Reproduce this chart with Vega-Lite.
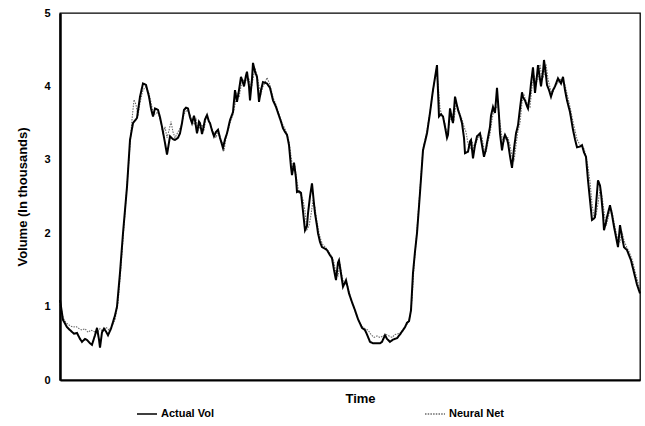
{
 "$schema": "https://vega.github.io/schema/vega-lite/v6.json",
 "width": 580,
 "height": 367,
 "autosize": "none",
 "padding": {"left": 60, "top": 13, "right": 5, "bottom": 46},
 "background": "white",
 "config": {"view": {"stroke": "#000", "strokeWidth": 1.3}, "font": "Liberation Sans"},
 "datasets": {
  "actual": [
   {"t":60,"v":1.09},{"t":63,"v":0.82},{"t":67,"v":0.72},{"t":70,"v":0.68},{"t":74,"v":0.63},{"t":77,"v":0.64},{"t":80,"v":0.56},{"t":82,"v":0.52},{"t":85,"v":0.56},{"t":87,"v":0.545},{"t":90,"v":0.5},{"t":92,"v":0.48},{"t":95,"v":0.61},{"t":97,"v":0.71},{"t":99,"v":0.55},{"t":100,"v":0.44},{"t":102,"v":0.65},{"t":104,"v":0.7},{"t":106,"v":0.66},{"t":108,"v":0.61},{"t":111,"v":0.7},{"t":113,"v":0.79},{"t":115,"v":0.88},{"t":117,"v":1.0},{"t":120,"v":1.46},{"t":123,"v":2.0},{"t":127,"v":2.63},{"t":130,"v":3.27},{"t":133,"v":3.5},{"t":137,"v":3.57},{"t":140,"v":3.86},{"t":143,"v":4.04},{"t":146,"v":4.02},{"t":149,"v":3.86},{"t":151,"v":3.7},{"t":153,"v":3.59},{"t":155,"v":3.7},{"t":158,"v":3.68},{"t":160,"v":3.58},{"t":162,"v":3.45},{"t":165,"v":3.23},{"t":167,"v":3.07},{"t":170,"v":3.32},{"t":173,"v":3.28},{"t":175,"v":3.27},{"t":178,"v":3.3},{"t":180,"v":3.36},{"t":182,"v":3.5},{"t":184,"v":3.68},{"t":186,"v":3.71},{"t":188,"v":3.7},{"t":190,"v":3.58},{"t":192,"v":3.5},{"t":194,"v":3.6},{"t":195,"v":3.54},{"t":197,"v":3.36},{"t":199,"v":3.52},{"t":200,"v":3.5},{"t":202,"v":3.35},{"t":203,"v":3.41},{"t":205,"v":3.55},{"t":207,"v":3.61},{"t":209,"v":3.52},{"t":210,"v":3.5},{"t":212,"v":3.4},{"t":214,"v":3.32},{"t":216,"v":3.38},{"t":218,"v":3.41},{"t":220,"v":3.3},{"t":223,"v":3.16},{"t":225,"v":3.28},{"t":227,"v":3.36},{"t":230,"v":3.54},{"t":233,"v":3.65},{"t":235,"v":3.95},{"t":237,"v":3.79},{"t":239,"v":3.95},{"t":241,"v":4.13},{"t":243,"v":4.05},{"t":244,"v":4.0},{"t":246,"v":4.15},{"t":247,"v":4.2},{"t":249,"v":4.0},{"t":250,"v":3.81},{"t":252,"v":4.1},{"t":253,"v":4.32},{"t":255,"v":4.2},{"t":257,"v":4.13},{"t":259,"v":3.79},{"t":261,"v":3.95},{"t":263,"v":4.06},{"t":265,"v":4.05},{"t":267,"v":4.04},{"t":270,"v":3.98},{"t":273,"v":3.81},{"t":276,"v":3.72},{"t":278,"v":3.64},{"t":281,"v":3.52},{"t":283,"v":3.43},{"t":285,"v":3.38},{"t":287,"v":3.34},{"t":289,"v":3.2},{"t":291,"v":2.9},{"t":292,"v":2.79},{"t":294,"v":2.96},{"t":296,"v":2.75},{"t":297,"v":2.56},{"t":299,"v":2.57},{"t":301,"v":2.55},{"t":303,"v":2.3},{"t":305,"v":2.04},{"t":307,"v":2.1},{"t":308,"v":2.27},{"t":310,"v":2.5},{"t":312,"v":2.68},{"t":314,"v":2.4},{"t":315,"v":2.27},{"t":317,"v":2.1},{"t":318,"v":2.0},{"t":320,"v":1.88},{"t":322,"v":1.81},{"t":325,"v":1.79},{"t":327,"v":1.77},{"t":330,"v":1.7},{"t":332,"v":1.66},{"t":334,"v":1.5},{"t":336,"v":1.36},{"t":338,"v":1.6},{"t":339,"v":1.63},{"t":341,"v":1.45},{"t":343,"v":1.27},{"t":346,"v":1.36},{"t":349,"v":1.18},{"t":352,"v":1.06},{"t":355,"v":0.95},{"t":358,"v":0.83},{"t":362,"v":0.71},{"t":365,"v":0.68},{"t":367,"v":0.62},{"t":370,"v":0.52},{"t":373,"v":0.5},{"t":377,"v":0.5},{"t":380,"v":0.5},{"t":382,"v":0.52},{"t":384,"v":0.58},{"t":385,"v":0.61},{"t":387,"v":0.56},{"t":390,"v":0.52},{"t":393,"v":0.55},{"t":397,"v":0.57},{"t":400,"v":0.62},{"t":402,"v":0.66},{"t":405,"v":0.72},{"t":407,"v":0.78},{"t":409,"v":0.8},{"t":411,"v":0.95},{"t":413,"v":1.46},{"t":415,"v":1.75},{"t":417,"v":2.0},{"t":420,"v":2.55},{"t":423,"v":3.13},{"t":427,"v":3.36},{"t":430,"v":3.64},{"t":433,"v":3.95},{"t":437,"v":4.29},{"t":439,"v":3.59},{"t":441,"v":3.62},{"t":443,"v":3.59},{"t":445,"v":3.45},{"t":447,"v":3.3},{"t":448,"v":3.34},{"t":450,"v":3.7},{"t":452,"v":3.55},{"t":453,"v":3.5},{"t":455,"v":3.86},{"t":457,"v":3.74},{"t":458,"v":3.68},{"t":460,"v":3.6},{"t":462,"v":3.5},{"t":464,"v":3.3},{"t":465,"v":3.09},{"t":468,"v":3.11},{"t":470,"v":3.25},{"t":471,"v":3.27},{"t":473,"v":3.02},{"t":475,"v":3.2},{"t":477,"v":3.32},{"t":480,"v":3.36},{"t":482,"v":3.2},{"t":484,"v":3.04},{"t":486,"v":3.15},{"t":487,"v":3.23},{"t":490,"v":3.45},{"t":491,"v":3.6},{"t":493,"v":3.72},{"t":495,"v":3.64},{"t":497,"v":3.98},{"t":499,"v":3.6},{"t":500,"v":3.36},{"t":502,"v":3.13},{"t":504,"v":3.3},{"t":505,"v":3.34},{"t":507,"v":3.28},{"t":508,"v":3.23},{"t":510,"v":3.05},{"t":512,"v":2.89},{"t":514,"v":3.15},{"t":516,"v":3.36},{"t":518,"v":3.47},{"t":520,"v":3.7},{"t":522,"v":3.92},{"t":523,"v":3.85},{"t":525,"v":3.81},{"t":527,"v":3.73},{"t":528,"v":3.7},{"t":530,"v":3.9},{"t":531,"v":4.04},{"t":533,"v":4.26},{"t":535,"v":3.91},{"t":537,"v":4.15},{"t":538,"v":4.29},{"t":540,"v":4.1},{"t":541,"v":4.0},{"t":543,"v":4.2},{"t":544,"v":4.36},{"t":546,"v":4.15},{"t":547,"v":4.02},{"t":549,"v":3.95},{"t":551,"v":3.86},{"t":553,"v":3.95},{"t":555,"v":4.0},{"t":558,"v":4.11},{"t":561,"v":4.04},{"t":563,"v":4.13},{"t":565,"v":3.95},{"t":567,"v":3.81},{"t":570,"v":3.65},{"t":573,"v":3.41},{"t":575,"v":3.28},{"t":577,"v":3.17},{"t":580,"v":3.18},{"t":582,"v":3.2},{"t":584,"v":3.1},{"t":586,"v":3.04},{"t":588,"v":2.72},{"t":590,"v":2.45},{"t":592,"v":2.18},{"t":594,"v":2.2},{"t":595,"v":2.22},{"t":597,"v":2.55},{"t":598,"v":2.72},{"t":600,"v":2.65},{"t":601,"v":2.55},{"t":603,"v":2.25},{"t":604,"v":2.04},{"t":606,"v":2.15},{"t":607,"v":2.22},{"t":610,"v":2.38},{"t":612,"v":2.25},{"t":614,"v":2.09},{"t":616,"v":1.95},{"t":618,"v":1.81},{"t":620,"v":2.11},{"t":622,"v":1.95},{"t":624,"v":1.81},{"t":627,"v":1.77},{"t":629,"v":1.7},{"t":631,"v":1.63},{"t":633,"v":1.52},{"t":635,"v":1.41},{"t":637,"v":1.3},{"t":640,"v":1.18}
  ],
  "neural": [
   {"t":60,"v":1.05},{"t":63,"v":0.85},{"t":66,"v":0.78},{"t":70,"v":0.74},{"t":73,"v":0.72},{"t":76,"v":0.73},{"t":79,"v":0.7},{"t":82,"v":0.68},{"t":85,"v":0.7},{"t":88,"v":0.65},{"t":91,"v":0.68},{"t":94,"v":0.66},{"t":97,"v":0.64},{"t":100,"v":0.7},{"t":103,"v":0.66},{"t":106,"v":0.72},{"t":109,"v":0.68},{"t":112,"v":0.74},{"t":115,"v":0.82},{"t":118,"v":1.05},{"t":121,"v":1.55},{"t":124,"v":2.1},{"t":127,"v":2.65},{"t":130,"v":3.2},{"t":132,"v":3.55},{"t":134,"v":3.82},{"t":136,"v":3.75},{"t":138,"v":3.6},{"t":140,"v":3.78},{"t":143,"v":3.95},{"t":146,"v":4.0},{"t":149,"v":3.9},{"t":151,"v":3.78},{"t":153,"v":3.65},{"t":155,"v":3.62},{"t":158,"v":3.65},{"t":161,"v":3.5},{"t":163,"v":3.35},{"t":165,"v":3.45},{"t":167,"v":3.3},{"t":169,"v":3.4},{"t":171,"v":3.52},{"t":173,"v":3.38},{"t":175,"v":3.3},{"t":178,"v":3.38},{"t":181,"v":3.45},{"t":184,"v":3.62},{"t":187,"v":3.68},{"t":190,"v":3.62},{"t":192,"v":3.52},{"t":194,"v":3.48},{"t":196,"v":3.55},{"t":198,"v":3.4},{"t":200,"v":3.45},{"t":202,"v":3.48},{"t":204,"v":3.4},{"t":206,"v":3.58},{"t":208,"v":3.55},{"t":210,"v":3.5},{"t":212,"v":3.42},{"t":214,"v":3.36},{"t":216,"v":3.3},{"t":218,"v":3.4},{"t":220,"v":3.28},{"t":222,"v":3.25},{"t":224,"v":3.12},{"t":226,"v":3.3},{"t":228,"v":3.4},{"t":230,"v":3.5},{"t":233,"v":3.62},{"t":235,"v":3.75},{"t":237,"v":3.9},{"t":239,"v":3.85},{"t":241,"v":4.0},{"t":243,"v":4.1},{"t":245,"v":4.05},{"t":247,"v":4.12},{"t":249,"v":4.1},{"t":251,"v":3.95},{"t":253,"v":4.1},{"t":255,"v":4.25},{"t":257,"v":4.15},{"t":259,"v":4.0},{"t":261,"v":3.9},{"t":263,"v":4.0},{"t":265,"v":4.05},{"t":267,"v":4.12},{"t":270,"v":4.02},{"t":273,"v":3.85},{"t":276,"v":3.75},{"t":279,"v":3.62},{"t":282,"v":3.5},{"t":285,"v":3.42},{"t":287,"v":3.35},{"t":289,"v":3.25},{"t":291,"v":3.05},{"t":293,"v":2.85},{"t":295,"v":2.9},{"t":297,"v":2.7},{"t":299,"v":2.55},{"t":301,"v":2.52},{"t":303,"v":2.45},{"t":305,"v":2.3},{"t":307,"v":2.05},{"t":309,"v":2.1},{"t":311,"v":2.25},{"t":313,"v":2.45},{"t":315,"v":2.35},{"t":317,"v":2.15},{"t":319,"v":2.0},{"t":321,"v":1.9},{"t":323,"v":1.84},{"t":326,"v":1.8},{"t":329,"v":1.74},{"t":332,"v":1.68},{"t":334,"v":1.6},{"t":336,"v":1.45},{"t":338,"v":1.42},{"t":340,"v":1.58},{"t":342,"v":1.42},{"t":344,"v":1.3},{"t":347,"v":1.32},{"t":350,"v":1.15},{"t":353,"v":1.02},{"t":356,"v":0.9},{"t":359,"v":0.8},{"t":362,"v":0.73},{"t":365,"v":0.7},{"t":368,"v":0.68},{"t":371,"v":0.62},{"t":374,"v":0.58},{"t":377,"v":0.6},{"t":380,"v":0.58},{"t":383,"v":0.6},{"t":386,"v":0.62},{"t":389,"v":0.6},{"t":392,"v":0.58},{"t":395,"v":0.62},{"t":398,"v":0.63},{"t":401,"v":0.65},{"t":404,"v":0.7},{"t":407,"v":0.76},{"t":410,"v":0.85},{"t":412,"v":1.1},{"t":414,"v":1.55},{"t":417,"v":2.05},{"t":420,"v":2.6},{"t":423,"v":3.15},{"t":427,"v":3.4},{"t":430,"v":3.65},{"t":433,"v":3.95},{"t":436,"v":4.2},{"t":438,"v":4.05},{"t":440,"v":3.7},{"t":442,"v":3.6},{"t":444,"v":3.55},{"t":446,"v":3.42},{"t":448,"v":3.38},{"t":450,"v":3.55},{"t":452,"v":3.62},{"t":454,"v":3.55},{"t":456,"v":3.75},{"t":458,"v":3.7},{"t":460,"v":3.62},{"t":462,"v":3.55},{"t":464,"v":3.45},{"t":466,"v":3.38},{"t":468,"v":3.22},{"t":470,"v":3.15},{"t":472,"v":3.25},{"t":474,"v":3.15},{"t":476,"v":3.22},{"t":478,"v":3.3},{"t":480,"v":3.35},{"t":482,"v":3.3},{"t":484,"v":3.15},{"t":486,"v":3.1},{"t":488,"v":3.25},{"t":490,"v":3.35},{"t":492,"v":3.55},{"t":494,"v":3.68},{"t":496,"v":3.7},{"t":498,"v":3.75},{"t":500,"v":3.5},{"t":502,"v":3.3},{"t":504,"v":3.25},{"t":506,"v":3.3},{"t":508,"v":3.3},{"t":510,"v":3.2},{"t":512,"v":3.05},{"t":514,"v":2.98},{"t":516,"v":3.2},{"t":518,"v":3.4},{"t":520,"v":3.5},{"t":522,"v":3.78},{"t":524,"v":3.88},{"t":526,"v":3.8},{"t":528,"v":3.75},{"t":530,"v":3.72},{"t":532,"v":4.0},{"t":534,"v":4.15},{"t":536,"v":4.05},{"t":538,"v":4.1},{"t":540,"v":4.3},{"t":542,"v":4.1},{"t":544,"v":4.15},{"t":546,"v":4.3},{"t":548,"v":4.1},{"t":550,"v":3.98},{"t":552,"v":3.9},{"t":554,"v":3.95},{"t":556,"v":4.02},{"t":558,"v":4.05},{"t":561,"v":4.1},{"t":563,"v":4.05},{"t":565,"v":4.02},{"t":567,"v":3.9},{"t":570,"v":3.72},{"t":573,"v":3.52},{"t":575,"v":3.4},{"t":577,"v":3.28},{"t":580,"v":3.2},{"t":582,"v":3.18},{"t":584,"v":3.15},{"t":586,"v":3.05},{"t":588,"v":2.9},{"t":590,"v":2.7},{"t":592,"v":2.4},{"t":594,"v":2.22},{"t":596,"v":2.25},{"t":598,"v":2.4},{"t":600,"v":2.6},{"t":602,"v":2.5},{"t":604,"v":2.3},{"t":606,"v":2.1},{"t":608,"v":2.2},{"t":610,"v":2.32},{"t":612,"v":2.3},{"t":614,"v":2.15},{"t":616,"v":2.02},{"t":618,"v":1.9},{"t":620,"v":1.88},{"t":622,"v":2.02},{"t":624,"v":1.9},{"t":627,"v":1.8},{"t":629,"v":1.75},{"t":631,"v":1.68},{"t":633,"v":1.6},{"t":635,"v":1.48},{"t":637,"v":1.38},{"t":640,"v":1.22}
  ]
 },
 "encoding": {
  "x": {"field": "t", "type": "quantitative", "scale": {"domain": [60, 640], "nice": false, "zero": false},
        "axis": {"title": "Time", "labels": false, "ticks": false, "grid": false, "domainWidth": 2, "domainColor": "#000",
                 "titleFont": "Liberation Sans", "titleFontSize": 13, "titleFontWeight": "bold", "titleColor": "#000", "titlePadding": 12, "titleX": 300}},
  "y": {"field": "v", "type": "quantitative", "scale": {"domain": [0, 5], "nice": false},
        "axis": {"title": "Volume (In thousands)", "values": [0,1,2,3,4,5], "ticks": false, "grid": false, "domainWidth": 2.5, "domainColor": "#000",
                 "labelFont": "Liberation Sans", "labelFontSize": 11, "labelFontWeight": "bold", "labelColor": "#000", "labelPadding": 10,
                 "titleFont": "Liberation Sans", "titleFontSize": 13, "titleFontWeight": "bold", "titleColor": "#000", "titlePadding": 14}}
 },
 "layer": [
  {"data": {"name": "neural"},
   "mark": {"type": "line", "strokeWidth": 1.1},
   "encoding": {
    "color": {"datum": "Neural Net", "type": "nominal", "scale": {"domain": ["Actual Vol", "Neural Net"], "range": ["#000000", "#6a6a6a"]},
              "legend": {"orient": "none", "legendX": 76, "legendY": 390, "direction": "horizontal", "title": null, "symbolType": "stroke", "symbolSize": 400, "symbolStrokeWidth": 1.6, "labelFont": "Liberation Sans", "labelFontSize": 11, "labelFontWeight": "bold", "labelColor": "#000", "columnPadding": 207, "labelOffset": 3}},
    "strokeDash": {"datum": "Neural Net", "type": "nominal", "scale": {"domain": ["Actual Vol", "Neural Net"], "range": [[1, 0], [1.5, 1.2]]},
              "legend": {"orient": "none", "legendX": 76, "legendY": 390, "direction": "horizontal", "title": null, "symbolType": "stroke", "symbolSize": 400, "symbolStrokeWidth": 1.6, "labelFont": "Liberation Sans", "labelFontSize": 11, "labelFontWeight": "bold", "labelColor": "#000", "columnPadding": 207, "labelOffset": 3}}
   }},
  {"data": {"name": "actual"},
   "mark": {"type": "line", "strokeWidth": 2},
   "encoding": {
    "color": {"datum": "Actual Vol", "type": "nominal"},
    "strokeDash": {"datum": "Actual Vol", "type": "nominal"}
   }}
 ]
}
